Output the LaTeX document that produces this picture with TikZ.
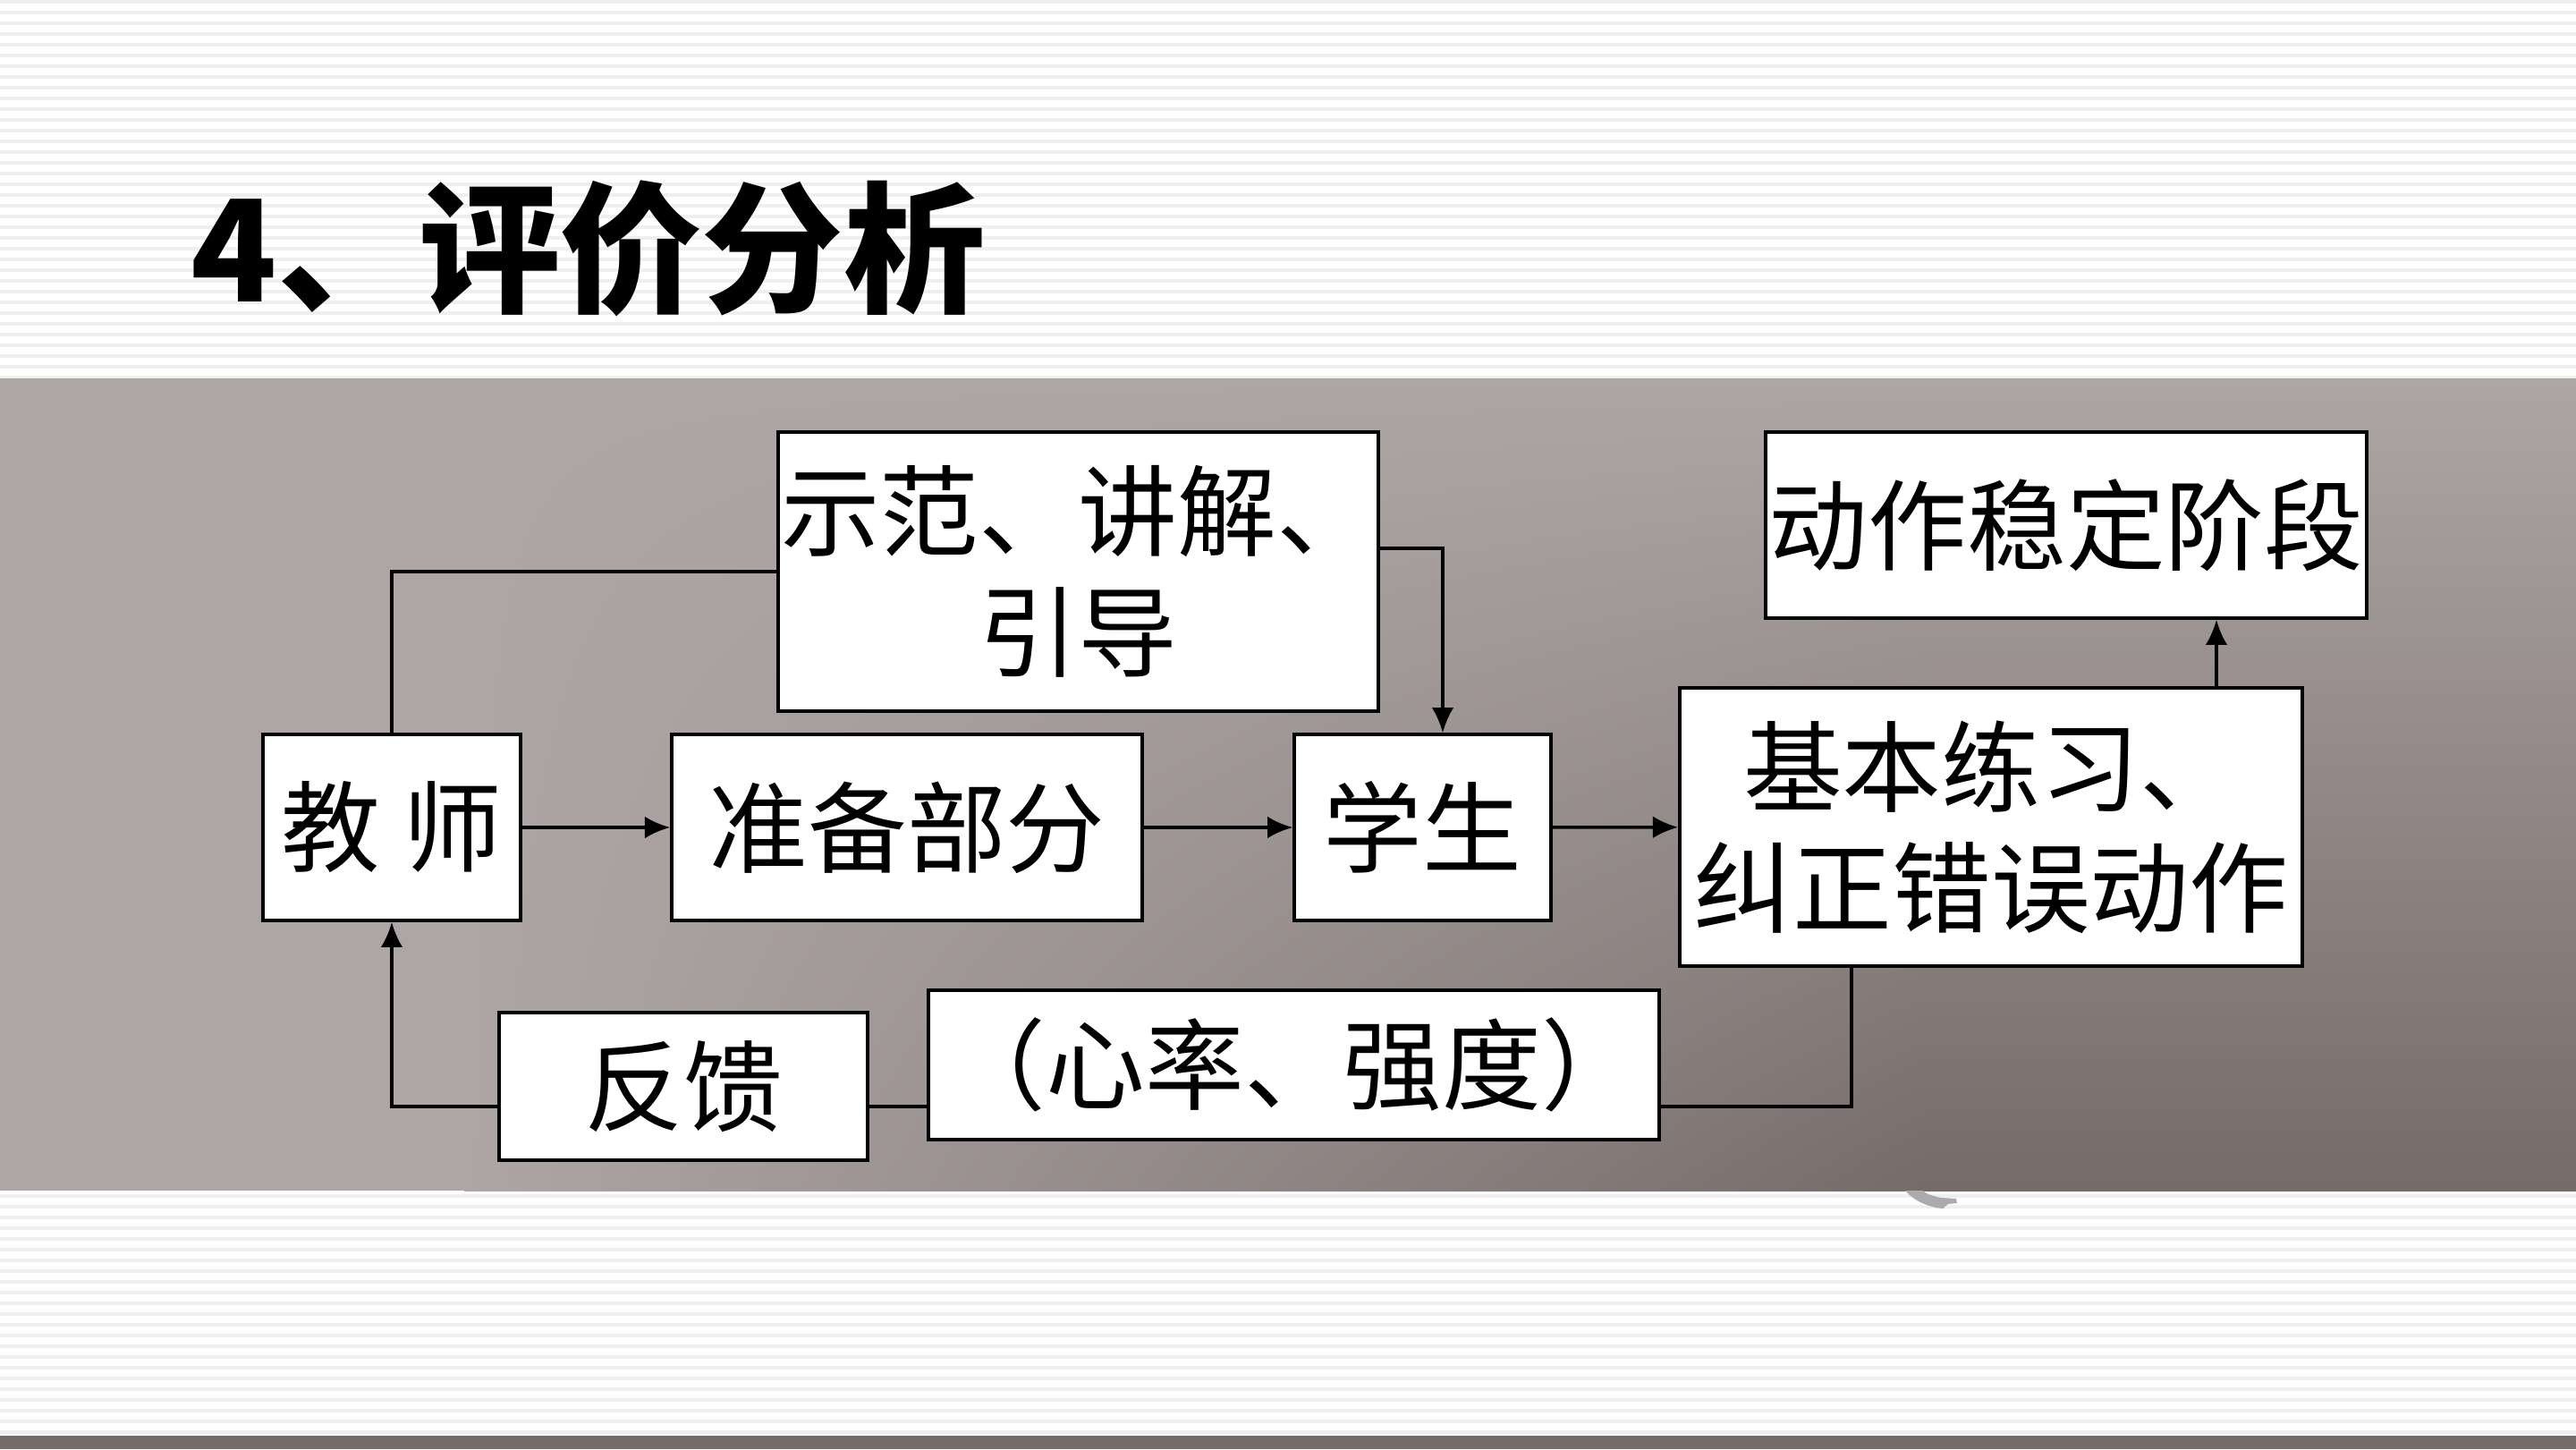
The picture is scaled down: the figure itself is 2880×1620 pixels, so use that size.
\documentclass[tikz,border=0pt]{standalone}
\usepackage{fontspec}
\newfontfamily\cjk{Noto Sans CJK SC}
\usetikzlibrary{arrows.meta,shadings}
\definecolor{stripe}{RGB}{239,239,239}
\definecolor{bandlight}{RGB}{174,166,164}
\definecolor{banddark}{RGB}{117,108,106}
\definecolor{blob}{RGB}{172,170,170}
\tikzset{
  box/.style={draw=black, line width=1pt, fill=white, inner sep=0pt, align=center,
    font=\cjk\fontsize{31.5pt}{38.5pt}\selectfont},
  conn/.style={draw=black, line width=1pt},
  arr/.style={conn, -{Latex[length=8pt,width=7pt]}},
}
\begin{document}
\begin{tikzpicture}[x=0.01cm,y=-0.01cm]
\useasboundingbox (0,0) rectangle (2880,1620);
% background
\fill[white] (0,0) rectangle (2880,1620);
\foreach \y in {0,12,...,420} {\fill[stripe] (0,\y) rectangle (2880,\y+3.5);}
\foreach \y in {1335,1347,...,1600} {\fill[stripe] (0,\y) rectangle (2880,\y+3.5);}
% band
\fill[bandlight] (0,423) rectangle (520,1331);
\shade[upper left=bandlight, upper right=bandlight, lower left=bandlight, lower right=banddark]
  (519,423) rectangle (2150,1331);
\shade[top color=bandlight, bottom color=banddark] (2149,423) rectangle (2880,1331);
\fill[banddark] (0,1605) rectangle (2880,1620);
% small grey mark below the band
\fill[blob] (2130,1331) .. controls (2140,1343) and (2158,1350) .. (2172,1351)
  -- (2178,1346) -- (2188,1345) -- (2187,1340) -- (2170,1339)
  .. controls (2160,1337) and (2152,1334) .. (2150,1331) -- cycle;
% title
\node[anchor=base west, inner sep=0pt, font=\cjk\bfseries\fontsize{45pt}{50pt}\selectfont]
  (title) at (213,337) {4、评价分析};
% helper coordinates for connectors
\coordinate (fbline) at (0,1237);
\coordinate (demoout) at (1613,613);
\coordinate (upx) at (2478,0);
\coordinate (downx) at (2070,0);
% boxes
\node[box, minimum width=2.88cm, minimum height=2.08cm] (teacher) at (438,925) {教 师};
\node[box, minimum width=5.26cm, minimum height=2.08cm] (prep) at (1014,925) {准备部分};
\node[box, minimum width=2.87cm, minimum height=2.08cm] (student) at (1590.5,925) {学生};
\node[box, minimum width=6.71cm, minimum height=3.12cm] (demo) at (1205.5,639) {示范、讲解、\\引导};
\node[box, minimum width=6.72cm, minimum height=2.08cm] (stable) at (2310,587) {动作稳定阶段};
\node[box, minimum width=6.96cm, minimum height=3.11cm] (basic) at (2226,924.5) {基本练习、\\纠正错误动作};
\node[box, minimum width=4.12cm, minimum height=1.65cm] (feedback) at (764,1214.5) {反馈};
\node[box, minimum width=8.17cm, minimum height=1.67cm] (hr) at (1446.5,1190.5) {（心率、强度）};
% connectors
\draw[conn] (demo.west) -| (teacher.north);
\draw[arr] (demo.east |- demoout) -- (demoout) -- (demoout |- student.north);
\draw[arr] (teacher) -- (prep);
\draw[arr] (prep) -- (student);
\draw[arr] (student) -- (basic);
\draw[arr] (basic.north -| upx) -- (stable.south -| upx);
\draw[conn] (basic.south -| downx) |- (hr.east |- fbline);
\draw[conn] (hr.west |- fbline) -- (feedback.east |- fbline);
\draw[arr] (feedback.west |- fbline) -| (teacher.south);
\end{tikzpicture}
\end{document}
